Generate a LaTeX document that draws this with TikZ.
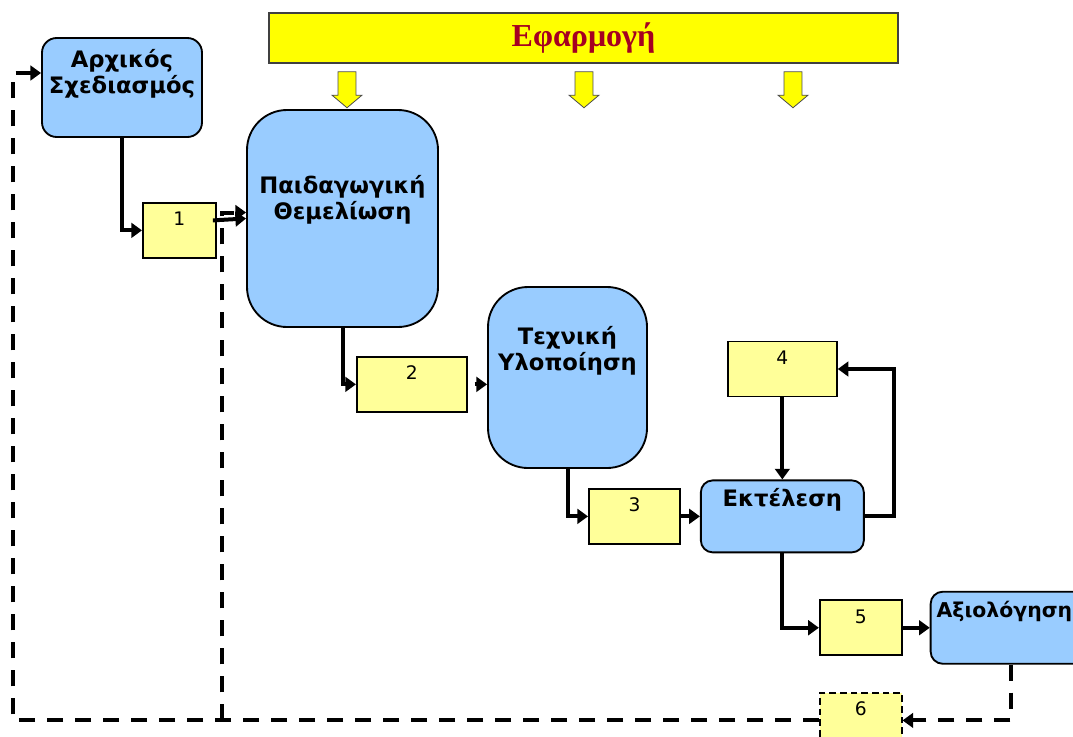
\documentclass[tikz,border=0pt]{standalone}
\usepackage{fontspec}
\setmainfont{DejaVu Sans}
\newfontfamily\titlefont{Liberation Serif}
\usepackage{tikz}
\usetikzlibrary{arrows.meta,positioning,calc,shapes.arrows}
\definecolor{procblue}{RGB}{153,204,255}
\definecolor{numyel}{RGB}{255,255,153}
\definecolor{appyel}{RGB}{255,255,0}
\definecolor{appred}{RGB}{165,0,33}
\tikzset{
  procbox/.style={
    rectangle, rounded corners=11pt, draw=black, line width=1.4pt,
    fill=procblue, inner sep=0pt
  },
  proctext/.style={
    align=center, inner sep=0pt,
    font=\fontsize{17}{19.5}\selectfont\bfseries
  },
  numbox/.style={
    rectangle, draw=black, line width=1.4pt, fill=numyel,
    minimum height=41.25pt, text height=8pt, text depth=15pt,
    font=\fontsize{14}{16}\selectfont
  },
  appbar/.style={
    rectangle, draw=black!75, line width=0.8pt, fill=appyel,
    minimum width=471.75pt, minimum height=37.5pt,
    font=\titlefont\fontsize{24}{28}\selectfont\bfseries, text=appred
  },
  apparrow/.style={
    single arrow, draw=black!70, line width=0.6pt, fill=appyel,
    rotate=-90, minimum height=27pt, inner xsep=0pt, inner ysep=6.4pt,
    single arrow head extend=4.5pt, single arrow head indent=0pt,
    single arrow tip angle=100
  },
  flow/.style={-{Triangle[length=8pt,width=11pt]}, line width=3pt},
  fbline/.style={line width=3pt, dash pattern=on 12pt off 9pt}
}

\begin{document}
\begin{tikzpicture}[x=0.75pt, y=-0.75pt]
  \useasboundingbox (0,0) rectangle (1073,736);

  % application bar and its arrows
  \node[appbar] (app) at (583.5,38) {Εφαρμογή};
  \foreach \x/\n in {347/1,584/2,793/3}
    \node[apparrow] (app\n) at (\x,86) {};

  % phases
  \node[procbox, minimum width=120pt, minimum height=74.25pt,
        label={[proctext, yshift=10.5pt]center:Αρχικός\\Σχεδιασμός}] (arch) at (122,87.5) {};
  \node[numbox, minimum width=54.75pt, below right=48pt and 15pt of arch.south] (n1) {1};
  \node[procbox, rounded corners=30pt, minimum width=143.25pt, minimum height=162.75pt,
        label={[proctext, yshift=13.9pt]center:Παιδαγωγική\\Θεμελίωση}] (ped) at (342.5,218.5) {};
  \node[numbox, minimum width=82.5pt, below right=21pt and 10.1pt of ped.south] (n2) {2};
  \node[procbox, rounded corners=30pt, minimum width=119.25pt, minimum height=135.75pt,
        label={[proctext, yshift=20pt]center:Τεχνική\\Υλοποίηση}] (tech) at (567.5,377.5) {};
  \node[numbox, minimum width=68.25pt, below right=14.25pt and 15.4pt of tech.south] (n3) {3};
  \node[procbox, rounded corners=9pt, minimum width=122.25pt, minimum height=54pt,
        label={[proctext, yshift=12.5pt]center:Εκτέλεση}, right=14.25pt of n3] (exe) {};
  \node[numbox, minimum width=81.75pt, above=61.5pt of exe] (n4) {4};
  \node[numbox, minimum width=61.5pt, below right=34.5pt and 27.4pt of exe.south] (n5) {5};
  \node[procbox, rounded corners=9pt, minimum width=120pt, minimum height=54pt,
        label={[proctext, font=\fontsize{15.3}{18}\selectfont\bfseries, anchor=west,
                xshift=5pt, yshift=12.5pt]west:Αξιολόγηση}, right=20.25pt of n5] (eval) {};
  \node[numbox, line width=1.1pt, dash pattern=on 5pt off 3pt, minimum width=61.5pt,
        below=27pt of n5] (n6) {6};

  \coordinate (fbl) at (13,73);
  \coordinate (fbj) at (222,0);

  % main flow
  \draw[flow] (arch.south) |- (n1.west);
  \draw[flow] ($(n1.east)+(-4,-10)$) -- (ped.west);
  \draw[flow] (ped.south) |- (n2.west);
  \draw[flow, shorten <=5pt] (n2.east) -- (n2.east -| tech.west);
  \draw[flow] (tech.south) |- (n3.west);
  \draw[flow] (n3.east) -- (exe.west);
  \draw[flow] (n4.south) -- (exe.north);
  \draw[flow] (exe.east) -- ++(29,0) |- (n4.east);
  \draw[flow] (exe.south) |- (n5.west);
  \draw[flow] (n5.east) -- (eval.west);

  % feedback
  \draw[fbline, -{Triangle[length=8pt,width=11pt]}] (eval.south) |- (n6.east);
  \draw[fbline, -{Triangle[length=8pt,width=11pt]}] (n6.west) -| (fbl) -- (fbl -| arch.west);
  \draw[fbline, -{Triangle[length=8pt,width=11pt]}] (fbj |- n6.west) |- ($(ped.west)+(0,-6)$);
\end{tikzpicture}
\end{document}
